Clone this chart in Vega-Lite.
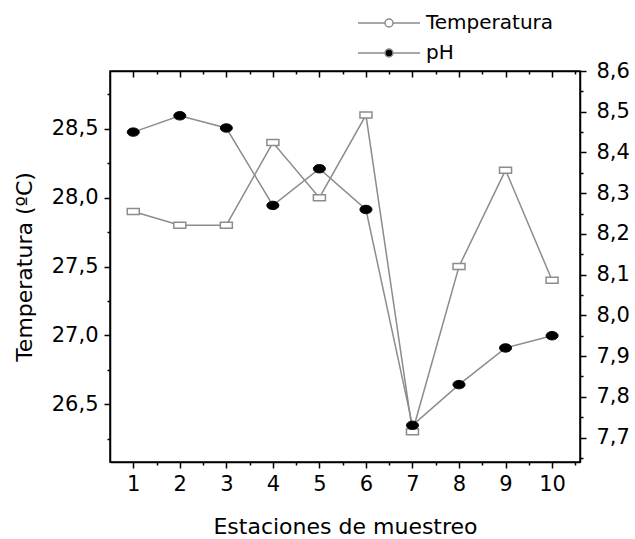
{
  "$schema": "https://vega.github.io/schema/vega-lite/v6.json",
  "width": 470,
  "height": 391,
  "autosize": {"type": "none"},
  "padding": {"left": 110, "top": 71, "right": 55, "bottom": 77},
  "background": "white",
  "config": {
    "view": {"stroke": "black", "strokeWidth": 1.5},
    "font": "DejaVu Sans",
    "axis": {
      "labelFontSize": 21, "labelColor": "black", "labelFont": "DejaVu Sans",
      "tickColor": "black", "tickWidth": 1.5, "domainColor": "black", "domainWidth": 1.5,
      "titleFontSize": 22, "titleFontWeight": "normal", "titleColor": "black", "titleFont": "DejaVu Sans",
      "grid": false
    }
  },
  "data": {
    "values": [
      {"estacion": 1, "variable": "Temperatura", "valor": 27.9},
      {"estacion": 2, "variable": "Temperatura", "valor": 27.8},
      {"estacion": 3, "variable": "Temperatura", "valor": 27.8},
      {"estacion": 4, "variable": "Temperatura", "valor": 28.4},
      {"estacion": 5, "variable": "Temperatura", "valor": 28.0},
      {"estacion": 6, "variable": "Temperatura", "valor": 28.6},
      {"estacion": 7, "variable": "Temperatura", "valor": 26.3},
      {"estacion": 8, "variable": "Temperatura", "valor": 27.5},
      {"estacion": 9, "variable": "Temperatura", "valor": 28.2},
      {"estacion": 10, "variable": "Temperatura", "valor": 27.4},
      {"estacion": 1, "variable": "pH", "valor": 8.45},
      {"estacion": 2, "variable": "pH", "valor": 8.49},
      {"estacion": 3, "variable": "pH", "valor": 8.46},
      {"estacion": 4, "variable": "pH", "valor": 8.27},
      {"estacion": 5, "variable": "pH", "valor": 8.36},
      {"estacion": 6, "variable": "pH", "valor": 8.26},
      {"estacion": 7, "variable": "pH", "valor": 7.73},
      {"estacion": 8, "variable": "pH", "valor": 7.83},
      {"estacion": 9, "variable": "pH", "valor": 7.92},
      {"estacion": 10, "variable": "pH", "valor": 7.95}
    ]
  },
  "layer": [
    {
      "transform": [{"filter": "datum.variable === 'Temperatura'"}],
      "encoding": {
        "x": {
          "field": "estacion", "type": "quantitative",
          "scale": {"domain": [0.5, 10.6], "nice": false, "zero": false},
          "axis": {
            "orient": "bottom",
            "title": "Estaciones de muestreo",
            "values": [1, 1.5, 2, 2.5, 3, 3.5, 4, 4.5, 5, 5.5, 6, 6.5, 7, 7.5, 8, 8.5, 9, 9.5, 10, 10.5],
            "labelExpr": "datum.value % 1 !== 0 ? '' : format(datum.value, 'd')",
            "tickSize": {"condition": {"test": "datum.value % 1 !== 0", "value": 3}, "value": 6},
            "labelPadding": 5,
            "labelOverlap": false,
            "titlePadding": 22
          }
        },
        "y": {
          "field": "valor", "type": "quantitative",
          "scale": {"domain": [26.08, 28.92], "nice": false, "zero": false},
          "axis": {
            "orient": "left",
            "title": "Temperatura (ºC)",
            "values": [26.25, 26.5, 26.75, 27, 27.25, 27.5, 27.75, 28, 28.25, 28.5, 28.75],
            "labelExpr": "(datum.value * 2) % 1 !== 0 ? '' : replace(format(datum.value, '.1f'), '.', ',')",
            "tickSize": {"condition": {"test": "(datum.value * 2) % 1 !== 0", "value": 3}, "value": 6},
            "labelPadding": 6,
            "labelOverlap": false,
            "titlePadding": 15
          }
        }
      },
      "layer": [
        {"mark": {"type": "line", "color": "#8c8c8c", "strokeWidth": 1.5}},
        {
          "mark": {"type": "point", "shape": "M-1,-0.5H1V0.5H-1Z", "size": 144, "filled": true, "stroke": "#8c8c8c", "strokeWidth": 1.5, "opacity": 1},
          "encoding": {
            "fill": {
              "field": "variable", "type": "nominal",
              "scale": {"domain": ["Temperatura", "pH"], "range": ["white", "black"]},
              "legend": {
                "orient": "none", "legendX": 269, "legendY": -58, "title": null,
                "symbolType": "M-7.75,0H-1M1,0H7.75M-1,0A1,1 0 1,0 1,0A1,1 0 1,0 -1,0Z",
                "symbolSize": 64, "symbolStrokeColor": "#8c8c8c", "symbolStrokeWidth": 1.5,
                "labelFontSize": 20, "labelColor": "black", "labelFont": "DejaVu Sans",
                "labelExpr": "datum.label === 'pH' ? '\u00a0pH' : datum.label",
                "labelOffset": 27, "rowPadding": 10
              }
            }
          }
        }
      ]
    },
    {
      "transform": [{"filter": "datum.variable === 'pH'"}],
      "encoding": {
        "x": {
          "field": "estacion", "type": "quantitative",
          "scale": {"domain": [0.5, 10.6], "nice": false, "zero": false},
          "axis": {
            "orient": "top",
            "title": null,
            "values": [1, 1.5, 2, 2.5, 3, 3.5, 4, 4.5, 5, 5.5, 6, 6.5, 7, 7.5, 8, 8.5, 9, 9.5, 10, 10.5],
            "labels": false,
            "tickSize": {"condition": {"test": "datum.value % 1 !== 0", "value": -3}, "value": -6}
          }
        },
        "y": {
          "field": "valor", "type": "quantitative",
          "scale": {"domain": [7.64, 8.6], "nice": false, "zero": false},
          "axis": {
            "orient": "right",
            "title": null,
            "values": [7.65, 7.7, 7.75, 7.8, 7.85, 7.9, 7.95, 8.0, 8.05, 8.1, 8.15, 8.2, 8.25, 8.3, 8.35, 8.4, 8.45, 8.5, 8.55, 8.6],
            "labelExpr": "abs(datum.value * 10 - round(datum.value * 10)) > 0.25 ? '' : replace(format(datum.value, '.1f'), '.', ',')",
            "tickSize": {"condition": {"test": "abs(datum.value * 10 - round(datum.value * 10)) > 0.25", "value": 3}, "value": 6},
            "labelPadding": 10,
            "labelOverlap": false
          }
        }
      },
      "layer": [
        {"mark": {"type": "line", "color": "#8c8c8c", "strokeWidth": 1.5}},
        {
          "mark": {"type": "point", "shape": "M-1,0A1,0.7 0 1,0 1,0A1,0.7 0 1,0 -1,0Z", "size": 144, "filled": true, "stroke": "black", "strokeWidth": 1, "opacity": 1},
          "encoding": {
            "fill": {
              "field": "variable", "type": "nominal",
              "scale": {"domain": ["Temperatura", "pH"], "range": ["white", "black"]},
              "legend": {
                "orient": "none", "legendX": 269, "legendY": -58, "title": null,
                "symbolType": "M-7.75,0H-1M1,0H7.75M-1,0A1,1 0 1,0 1,0A1,1 0 1,0 -1,0Z",
                "symbolSize": 64, "symbolStrokeColor": "#8c8c8c", "symbolStrokeWidth": 1.5,
                "labelFontSize": 20, "labelColor": "black", "labelFont": "DejaVu Sans",
                "labelExpr": "datum.label === 'pH' ? '\u00a0pH' : datum.label",
                "labelOffset": 27, "rowPadding": 10
              }
            }
          }
        }
      ]
    }
  ],
  "resolve": {"scale": {"y": "independent"}, "axis": {"x": "independent", "y": "independent"}}
}
